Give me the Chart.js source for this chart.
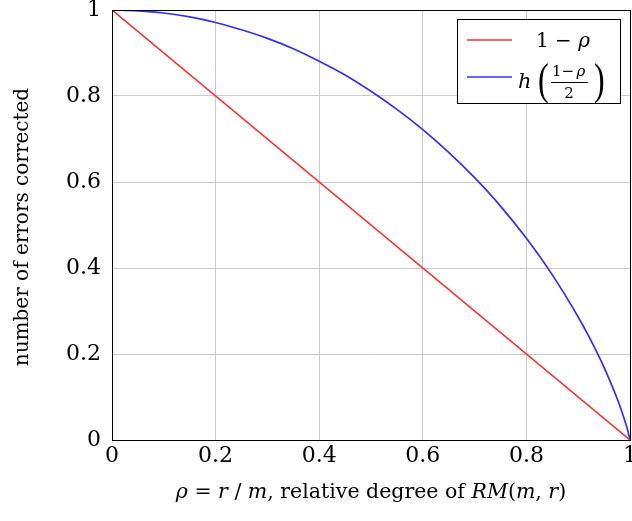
<!DOCTYPE html>
<html>
<head>
<meta charset="utf-8">
<script src="https://cdn.jsdelivr.net/npm/chart.js@4.4.1/dist/chart.umd.min.js"></script>
<style>
    html, body { margin: 0; padding: 0; background: #fff; }
    #wrap { width: 632px; height: 521px; }
</style>
</head>
<body>
<div id="wrap"><canvas id="chart" width="632" height="521"></canvas></div>
<script>
const rhoLinear = [0, 1];
const linearValues = [1, 0];

const rhoEntropy = [0, 0.05, 0.1, 0.15, 0.2, 0.25, 0.3, 0.35, 0.4, 0.45, 0.5, 0.55, 0.6, 0.65,
    0.7, 0.75, 0.8, 0.85, 0.9, 0.92, 0.95, 0.96, 0.97, 0.98, 0.99, 0.995, 1];
const entropyValues = [1, 0.998, 0.993, 0.984, 0.971, 0.954, 0.934, 0.910, 0.881, 0.849, 0.811, 0.769,
    0.722, 0.669, 0.610, 0.544, 0.469, 0.384, 0.286, 0.242, 0.169, 0.141, 0.112, 0.081, 0.045, 0.025, 0];

const tickValues = [0, 0.2, 0.4, 0.6, 0.8, 1];

const serif = '"DejaVu Serif", "Liberation Serif", serif';
const thinSerif = '"Liberation Serif", serif';

function toPoints(xs, ys) {
    return xs.map((x, i) => ({ x, y: ys[i] }));
}

// frame, axis titles and the legend (the legend has a stacked fraction)
const decorations = {
    id: 'decorations',
    afterDraw(chart) {
        const { ctx, chartArea: a } = chart;
        ctx.save();
        ctx.strokeStyle = '#000';
        ctx.lineWidth = 1;
        ctx.strokeRect(Math.round(a.left) + 0.5, Math.round(a.top) + 0.5,
            Math.round(a.right - a.left), Math.round(a.bottom - a.top));

        // y title
        ctx.fillStyle = '#000';
        ctx.font = `20px ${serif}`;
        ctx.textAlign = 'center';
        ctx.textBaseline = 'middle';
        ctx.translate(23, 227);
        ctx.rotate(-Math.PI / 2);
        ctx.fillText('number of errors corrected', 0, 0);
        ctx.setTransform(1, 0, 0, 1, 0, 0);

        // x title, mixed upright / italic
        const parts = [
            ['ρ', true], [' = ', false], ['r', true], [' / ', false], ['m', true],
            [', relative degree of ', false], ['RM', true], ['(', false], ['m', true],
            [', ', false], ['r', true], [')', false],
        ];
        const fontFor = it => `${it ? 'italic ' : ''}20.5px ${serif}`;
        let total = 0;
        parts.forEach(([t, it]) => { ctx.font = fontFor(it); total += ctx.measureText(t).width; });
        let x = 371 - total / 2;
        ctx.textAlign = 'left';
        ctx.textBaseline = 'alphabetic';
        parts.forEach(([t, it]) => {
            ctx.font = fontFor(it);
            ctx.fillText(t, x, 498);
            x += ctx.measureText(t).width;
        });

        // legend
        const lx = 457, ly = 19, lw = 163, lh = 84;
        ctx.fillStyle = '#fff';
        ctx.fillRect(lx, ly, lw, lh);
        ctx.strokeStyle = '#000';
        ctx.strokeRect(lx + 0.5, ly + 0.5, lw, lh);

        ctx.lineWidth = 1.6;
        ctx.strokeStyle = chart.data.datasets[0].borderColor;
        ctx.beginPath(); ctx.moveTo(467, 40); ctx.lineTo(512, 40); ctx.stroke();
        ctx.strokeStyle = chart.data.datasets[1].borderColor;
        ctx.beginPath(); ctx.moveTo(467, 77); ctx.lineTo(512, 77); ctx.stroke();

        ctx.fillStyle = '#000';
        ctx.font = `20px ${serif}`;
        ctx.fillText('1 − ', 536, 47);
        const w = ctx.measureText('1 − ').width;
        ctx.font = `italic 20px ${serif}`;
        ctx.fillText('ρ', 536 + w, 47);

        ctx.font = `italic 21px ${serif}`;
        ctx.fillText('h', 518, 88);
        // tall thin parentheses: stretch a normal glyph vertically
        ctx.font = `32px ${thinSerif}`;
        ctx.save();
        ctx.translate(0, 94);
        ctx.scale(1, 1.4);
        ctx.fillText('(', 538, 0);
        ctx.fillText(')', 594, 0);
        ctx.restore();
        ctx.font = `15px ${serif}`;
        ctx.textAlign = 'center';
        ctx.fillText('1−', 563, 76);
        ctx.font = `italic 15px ${serif}`;
        ctx.fillText('ρ', 581, 76);
        ctx.font = `15px ${serif}`;
        ctx.fillText('2', 569, 98);
        ctx.lineWidth = 1;
        ctx.strokeStyle = '#000';
        ctx.beginPath(); ctx.moveTo(551, 82.5); ctx.lineTo(588, 82.5); ctx.stroke();
        ctx.restore();
    },
};

new Chart(document.getElementById('chart'), {
    type: 'scatter',
    data: {
        datasets: [
            {
                label: '1 − ρ',
                data: toPoints(rhoLinear, linearValues),
                showLine: true,
                borderColor: '#ff3030',
                borderWidth: 1.6,
                pointRadius: 0,
            },
            {
                label: 'h((1−ρ)/2)',
                data: toPoints(rhoEntropy, entropyValues),
                showLine: true,
                borderColor: '#3030ff',
                borderWidth: 1.7,
                pointRadius: 0,
                cubicInterpolationMode: 'monotone',
            },
        ],
    },
    options: {
        responsive: false,
        animation: false,
        layout: { padding: { left: 0, right: 2, top: 10, bottom: 0 } },
        plugins: { legend: { display: false }, tooltip: { enabled: false } },
        scales: {
            x: {
                type: 'linear',
                min: 0,
                max: 1,
                afterFit: scale => { scale.height = 81; scale.paddingLeft = 0; scale.paddingRight = 0; },
                afterBuildTicks: scale => { scale.ticks = tickValues.map(value => ({ value })); },
                grid: { color: '#cccccc', tickLength: 0 },
                border: { color: '#000' },
                ticks: { color: '#000', font: { family: serif, size: 22 }, padding: 3, callback: v => String(v) },
            },
            y: {
                type: 'linear',
                min: 0,
                max: 1,
                afterFit: scale => { scale.width = 112; scale.paddingTop = 0; scale.paddingBottom = 0; },
                afterBuildTicks: scale => { scale.ticks = tickValues.map(value => ({ value })); },
                grid: { color: '#cccccc', tickLength: 0 },
                border: { color: '#000' },
                ticks: { color: '#000', font: { family: serif, size: 22 }, padding: 11, callback: v => String(v) },
            },
        },
    },
    plugins: [decorations],
});
</script>
</body>
</html>
